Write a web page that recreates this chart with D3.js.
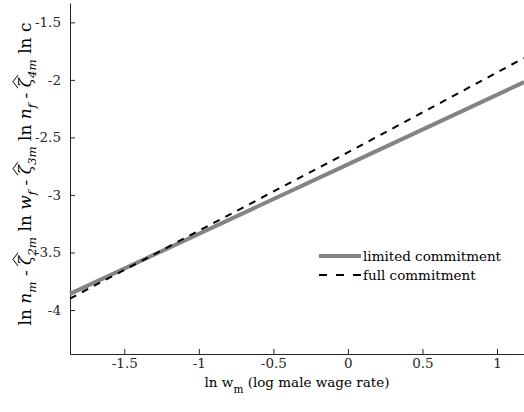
<!DOCTYPE html>
<html>
<head>
    <script src="https://d3js.org/d3.v7.min.js"></script>
    <style>
        body { margin: 0; background: #fff; }
    </style>
</head>
<body>
    <svg width="524" height="412"></svg>
    <script>
        // data (straight lines, endpoints at the axis limits)
        let xVals = [-1.864, 0, 1.181];
        let limited = [-3.86, -2.734, -2.02];
        let full = [-3.90, -2.63, -1.81];
        let xTicks = [-1.5, -1, -0.5, 0, 0.5, 1];
        let yTicks = [-4, -3.5, -3, -2.5, -2, -1.5];
        let seriesNames = ["limited commitment", "full commitment"];

        // Liberation Serif doesn't resolve here, DejaVu Serif does
        let serif = "'DejaVu Serif', serif";
        let fs = "13.5px";
        let svg = d3.select("svg");
        let mLeft = 70, mRight = 524, mTop = 3, mBottom = 354;

        let x = d3.scaleLinear().domain([-1.864, 1.181]).range([mLeft, mRight]);
        let y = d3.scaleLinear().domain([-4.382, -1.332]).range([mBottom, mTop]);

        // axes, ticks pointing inward like matlab
        let gx = svg.append("g")
            .attr("transform", "translate(0," + mBottom + ")")
            .call(d3.axisBottom(x).tickValues(xTicks).tickSize(-5).tickSizeOuter(0).tickPadding(4)
                .tickFormat(d => String(d)));

        let gy = svg.append("g")
            .attr("transform", "translate(" + mLeft + ",0)")
            .call(d3.axisLeft(y).tickValues(yTicks).tickSize(-5).tickSizeOuter(0).tickPadding(9)
                .tickFormat(d => String(d)));

        [gx, gy].forEach(g => {
            g.attr("font-family", null).attr("font-size", null);
            g.selectAll("text").attr("fill", "#262626").style("font-family", serif).style("font-size", fs);
            g.selectAll("line").attr("stroke", "#262626");
            g.select(".domain").attr("stroke", "#262626").attr("stroke-width", 1);
        });

        let line = d3.line().x(d => x(d[0])).y(d => y(d[1]));

        svg.append("path")
            .datum(xVals.map((v, i) => [v, limited[i]]))
            .attr("d", line)
            .attr("fill", "none")
            .attr("stroke", "#848484")
            .attr("stroke-width", 4);

        svg.append("path")
            .datum(xVals.map((v, i) => [v, full[i]]))
            .attr("d", line)
            .attr("fill", "none")
            .attr("stroke", "#000")
            .attr("stroke-width", 2)
            .attr("stroke-dasharray", "7,6.5");

        // legend
        let legend = svg.append("g").attr("transform", "translate(319,256)");
        legend.append("line").attr("x1", 0).attr("x2", 42).attr("y1", 0).attr("y2", 0)
            .attr("stroke", "#848484").attr("stroke-width", 4);
        legend.append("line").attr("x1", 0).attr("x2", 42).attr("y1", 19).attr("y2", 19)
            .attr("stroke", "#000").attr("stroke-width", 2).attr("stroke-dasharray", "8,9");
        legend.selectAll("text")
            .data(seriesNames)
            .enter().append("text")
            .attr("x", 44)
            .attr("y", (d, i) => i * 19 + 5)
            .style("font-family", serif)
            .style("font-size", fs)
            .attr("fill", "#000")
            .text(d => d);

        // x label
        let xl = svg.append("text")
            .attr("x", (mLeft + mRight) / 2)
            .attr("y", 387)
            .attr("text-anchor", "middle")
            .style("font-family", serif)
            .style("font-size", fs)
            .attr("fill", "#000");
        xl.append("tspan").text("ln w");
        xl.append("tspan").style("font-size", "10.5px").attr("dy", 6).text("m");
        xl.append("tspan").attr("dy", -6).text(" (log male wage rate)");

        // y label, rotated, with wide hats over zeta
        let yg = svg.append("g").attr("transform", "translate(31,174) rotate(-90)");
        let yl = yg.append("text")
            .attr("text-anchor", "middle")
            .style("font-family", serif)
            .attr("fill", "#000");
        let parts = [
            ["ln ", 0], ["n", 1], ["m", 2], [" - ", 0], ["ζ", 3], ["2m", 2], [" ln ", 0], ["w", 1], ["f", 2],
            [" - ", 0], ["ζ", 3], ["3m", 2], [" ln ", 0], ["n", 1], ["f", 2], [" - ", 0], ["ζ", 3], ["4m", 2], [" ln c", 0]
        ];
        let prevSub = false;
        parts.forEach(p => {
            let t = yl.append("tspan").text(p[0]);
            if (p[1] >= 1) t.style("font-style", "italic");
            if (p[1] === 2) { t.attr("class", "sub").attr("dy", 5); prevSub = true; }
            else if (prevSub) { t.attr("dy", -5); prevSub = false; }
        });
        // size the label so it spans about the same length as the reference (~303px)
        let ySize = 18;
        yl.style("font-size", ySize + "px");
        yl.selectAll(".sub").style("font-size", (ySize * 0.7) + "px");
        ySize = ySize * 303 / yl.node().getComputedTextLength();
        yl.style("font-size", ySize + "px");
        yl.selectAll(".sub").style("font-size", (ySize * 0.7) + "px");

        // hats
        let idx = 0;
        let textNode = yl.node();
        parts.forEach(p => {
            if (p[1] === 3) {
                let b = textNode.getExtentOfChar(idx);
                let x0 = b.x - 1, x1 = b.x + b.width + 3, yt = b.y + 2;
                yg.append("path")
                    .attr("d", "M" + x0 + "," + (yt + 1) + "L" + ((x0 + x1) / 2) + "," + (yt - 4) + "L" + x1 + "," + (yt + 1))
                    .attr("fill", "none").attr("stroke", "#000").attr("stroke-width", 1);
            }
            idx += p[0].length;
        });
    </script>
</body>
</html>
